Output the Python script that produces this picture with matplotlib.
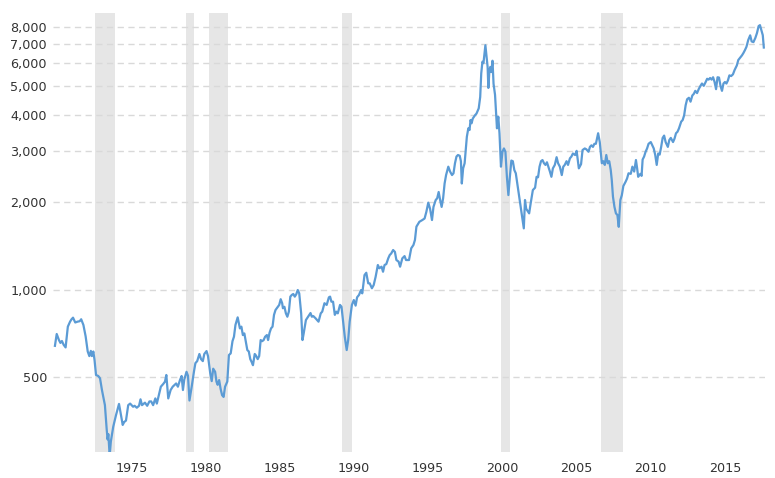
import matplotlib
matplotlib.use('Agg')
import matplotlib.pyplot as plt
import matplotlib.ticker as mticker
from matplotlib.transforms import ScaledTranslation

# Serie mensual aproximada (año decimal, valor ajustado por inflación)
years = [
    1971.13, 1971.25, 1971.4, 1971.5, 1971.6, 1971.72, 1971.85, 1972.0, 1972.15, 1972.25,
    1972.35, 1972.5, 1972.65, 1972.8, 1972.9, 1973.05, 1973.2, 1973.34, 1973.45, 1973.55,
    1973.62, 1973.72, 1973.8, 1973.9, 1974.05, 1974.17, 1974.3, 1974.5, 1974.62, 1974.68,
    1974.73, 1974.82, 1974.9, 1975.06, 1975.25, 1975.45, 1975.6, 1975.7, 1975.8, 1975.92,
    1976.07, 1976.2, 1976.4, 1976.5, 1976.65, 1976.8, 1976.9, 1977.0, 1977.2, 1977.35,
    1977.5, 1977.62, 1977.75, 1977.9, 1978.0, 1978.15, 1978.27, 1978.43, 1978.55, 1978.64,
    1978.77, 1978.93, 1979.07, 1979.2, 1979.3, 1979.42, 1979.56, 1979.67, 1979.76, 1979.85,
    1980.0, 1980.1, 1980.2, 1980.35, 1980.5, 1980.6, 1980.72, 1980.87, 1980.98, 1981.1,
    1981.2, 1981.35, 1981.45, 1981.6, 1981.7, 1981.8, 1981.93, 1982.02, 1982.1, 1982.2,
    1982.3, 1982.4, 1982.5, 1982.6, 1982.75, 1982.86, 1982.98, 1983.1, 1983.2, 1983.3,
    1983.45, 1983.6, 1983.7, 1983.8, 1983.9, 1983.98, 1984.1, 1984.2, 1984.3, 1984.4,
    1984.48, 1984.6, 1984.68, 1984.8, 1984.9, 1985.0, 1985.1, 1985.2, 1985.3, 1985.42,
    1985.5, 1985.6, 1985.7, 1985.8, 1985.9, 1986.0, 1986.25, 1986.35, 1986.45, 1986.5,
    1986.6, 1986.7, 1986.8, 1986.9, 1987.0, 1987.1, 1987.2, 1987.3, 1987.4, 1987.5,
    1987.6, 1987.73, 1987.82, 1987.9, 1988.05, 1988.2, 1988.36, 1988.45, 1988.55, 1988.7,
    1988.8, 1988.9, 1989.05, 1989.15, 1989.3, 1989.45, 1989.6, 1989.68, 1989.77, 1989.88,
    1990.0, 1990.1, 1990.2, 1990.35, 1990.45, 1990.55, 1990.67, 1990.8, 1990.9, 1991.0,
    1991.15, 1991.28, 1991.4, 1991.5, 1991.63, 1991.76, 1991.85, 1992.0, 1992.12, 1992.25,
    1992.35, 1992.5, 1992.62, 1992.75, 1992.9, 1993.0, 1993.15, 1993.25, 1993.35, 1993.47,
    1993.6, 1993.7, 1993.8, 1993.93, 1994.05, 1994.15, 1994.3, 1994.4, 1994.55, 1994.7,
    1994.8, 1995.0, 1995.15, 1995.3, 1995.4, 1995.5, 1995.7, 1995.9, 1996.05, 1996.17,
    1996.3, 1996.42, 1996.55, 1996.65, 1996.8, 1996.9, 1997.0, 1997.1, 1997.2, 1997.3,
    1997.4, 1997.5, 1997.65, 1997.77, 1997.9, 1998.0, 1998.1, 1998.2, 1998.3, 1998.42,
    1998.5, 1998.56, 1998.65, 1998.75, 1998.83, 1998.9, 1999.0, 1999.08, 1999.15, 1999.22,
    1999.3, 1999.45, 1999.55, 1999.7, 1999.8, 1999.87, 1999.95, 2000.02, 2000.15, 2000.22,
    2000.3, 2000.35, 2000.42, 2000.48, 2000.55, 2000.63, 2000.7, 2000.8, 2000.93, 2001.02,
    2001.1, 2001.2, 2001.3, 2001.4, 2001.5, 2001.6, 2001.7, 2001.8, 2001.9, 2002.0,
    2002.1, 2002.2, 2002.3, 2002.45, 2002.55, 2002.74, 2002.82, 2002.9, 2003.1, 2003.2,
    2003.35, 2003.5, 2003.6, 2003.7, 2003.8, 2003.9, 2004.0, 2004.1, 2004.2, 2004.3,
    2004.5, 2004.6, 2004.7, 2004.83, 2004.95, 2005.05, 2005.17, 2005.3, 2005.4, 2005.5,
    2005.62, 2005.72, 2005.85, 2005.95, 2006.05, 2006.2, 2006.3, 2006.45, 2006.6, 2006.7,
    2006.85, 2006.95, 2007.1, 2007.2, 2007.3, 2007.4, 2007.5, 2007.6, 2007.75, 2007.86,
    2007.95, 2008.0, 2008.1, 2008.2, 2008.3, 2008.4, 2008.5, 2008.6, 2008.67, 2008.75,
    2008.85, 2008.95, 2009.05, 2009.14, 2009.25, 2009.35, 2009.45, 2009.6, 2009.7, 2009.8,
    2009.95, 2010.06, 2010.18, 2010.3, 2010.38, 2010.45, 2010.6, 2010.68, 2010.75, 2010.85,
    2010.95, 2011.05, 2011.15, 2011.3, 2011.4, 2011.5, 2011.6, 2011.7, 2011.8, 2011.9,
    2012.0, 2012.1, 2012.2, 2012.3, 2012.45, 2012.55, 2012.65, 2012.8, 2012.9, 2013.0,
    2013.1, 2013.2, 2013.35, 2013.45, 2013.55, 2013.65, 2013.75, 2013.87, 2013.98, 2014.1,
    2014.2, 2014.3, 2014.42, 2014.53, 2014.65, 2014.75, 2014.87, 2015.0, 2015.1, 2015.2,
    2015.3, 2015.4, 2015.5, 2015.6, 2015.7, 2015.8, 2015.9, 2016.0, 2016.1, 2016.2,
    2016.3, 2016.4, 2016.5, 2016.6, 2016.72, 2016.84, 2016.95, 2017.1, 2017.2, 2017.3,
    2017.45, 2017.55, 2017.65, 2017.75, 2017.87, 2018.0, 2018.1, 2018.22, 2018.35, 2018.46,
    2018.57, 2018.66, 2018.76, 2018.85, 2018.92,
]
values = [
    640, 703, 670, 655, 665, 645, 632, 745, 775, 790,
    800, 770, 775, 778, 790, 755, 690, 612, 590, 615,
    590, 612, 572, 508, 504, 495, 451, 400, 330, 305,
    318, 268, 300, 337, 370, 404, 365, 342, 350, 354,
    400, 405, 395, 398, 392, 398, 419, 400, 408, 398,
    412, 412, 400, 422, 405, 437, 463, 473, 482, 508,
    422, 451, 463, 470, 475, 463, 488, 504, 451, 490,
    521, 505, 415, 463, 521, 558, 567, 600, 576, 567,
    600, 614, 590, 515, 484, 534, 521, 482, 470, 488,
    455, 433, 427, 463, 482, 595, 603, 664, 688, 755,
    802, 735, 745, 697, 706, 670, 619, 612, 576, 562,
    549, 600, 593, 576, 590, 670, 664, 670, 688, 697,
    670, 710, 735, 745, 818, 850, 885, 926, 897, 862,
    872, 828, 806, 839, 945, 958, 965, 945, 963, 996,
    970, 828, 670, 706, 785, 806, 830, 806, 810, 796,
    785, 775, 828, 839, 897, 885, 940, 945, 908, 908,
    818, 839, 828, 885, 872, 785, 688, 619, 670, 775,
    885, 920, 880, 940, 958, 995, 970, 1121, 1142, 1050,
    1050, 1010, 1036, 1106, 1214, 1183, 1198, 1151, 1214, 1223,
    1280, 1314, 1330, 1367, 1347, 1263, 1247, 1198, 1280, 1303,
    1263, 1263, 1386, 1423, 1480, 1645, 1710, 1734, 1755, 1850,
    1990, 1896, 1734, 1924, 2032, 2060, 2165, 2032, 1924, 2060,
    2316, 2476, 2646, 2545, 2476, 2511, 2719, 2867, 2902, 2884,
    2763, 2316, 2611, 2719, 3028, 3354, 3586, 3537, 3829, 3732,
    3875, 3977, 4030, 4199, 4597, 5541, 6078, 6010, 6926, 6394,
    5832, 4938, 5665, 5832, 5599, 6125, 5103, 4676, 3586, 3931,
    3448, 2646, 2978, 3057, 2978, 2442, 2113, 2442, 2777, 2763,
    2577, 2511, 2316, 2060, 1896, 1623, 2032, 1896, 1828, 1975,
    2199, 2240, 2442, 2433, 2646, 2763, 2789, 2719, 2683, 2740,
    2545, 2442, 2611, 2683, 2853, 2719, 2646, 2476, 2646, 2683,
    2763, 2683, 2828, 2867, 2937, 2902, 3000, 2611, 2700, 3019,
    3057, 3038, 2978, 3095, 3134, 3095, 3172, 3172, 3448, 3216,
    2902, 2719, 2763, 2683, 2902, 2719, 2763, 2577, 2380, 2087,
    1925, 1828, 1804, 1643, 2032, 2113, 2270, 2347, 2409, 2511,
    2500, 2646, 2545, 2789, 2611, 2442, 2500, 2460, 2800, 2867,
    2978, 3057, 3172, 3216, 3134, 3057, 2902, 2683, 2937, 2912,
    3095, 3323, 3385, 3216, 3095, 3269, 3323, 3216, 3304, 3448,
    3489, 3583, 3780, 3829, 3977, 4304, 4515, 4567, 4428, 4650,
    4710, 4825, 4740, 4890, 5020, 5113, 5020, 5175, 5310, 5275,
    5343, 5275, 5374, 5175, 4890, 5374, 5360, 5020, 4825, 5113,
    5175, 5113, 5240, 5455, 5425, 5500, 5690, 5900, 6160, 6250,
    6394, 6518, 6667, 6840, 7217, 7490, 7137, 7098, 7340, 7630,
    8060, 8120, 7800, 7500, 6800,
]

# Recesiones (inicio, fin) en año decimal
recession_start = [1973.83, 1980.0, 1981.5, 1990.5, 2001.17, 2007.92]
recession_end = [1975.17, 1980.5, 1982.83, 1991.17, 2001.83, 2009.42]

y_ticks = [500, 1000, 2000, 3000, 4000, 5000, 6000, 7000, 8000]
x_ticks = [1975, 1980, 1985, 1990, 1995, 2000, 2005, 2010, 2015]

fig = plt.figure(figsize=(7.75, 4.78), dpi=100)
ax = fig.add_axes([53 / 775, 1 - 452 / 478, 712 / 775, 439 / 478])

for ini, fin in zip(recession_start, recession_end):
    ax.axvspan(ini, fin, color='#e6e6e6', lw=0, zorder=0)

ax.plot(years, values, color='#5b9bd5', lw=1.6, zorder=3, solid_joinstyle='round')

ax.set_yscale('log')
ax.set_ylim(276, 8940)
ax.set_xlim(1971.0, 2019.0)

ax.yaxis.set_major_locator(mticker.FixedLocator(y_ticks))
ax.yaxis.set_major_formatter(mticker.FuncFormatter(lambda v, p: f'{int(v):,}'))
ax.yaxis.set_minor_locator(mticker.NullLocator())
ax.set_xticks(x_ticks)
ax.set_xticklabels([str(y) for y in x_ticks])

ax.grid(axis='y', color='#d9d9d9', lw=1, dashes=(4.5, 3.2))
ax.set_axisbelow(True)
for gl in ax.get_ygridlines():
    gl.set_zorder(1)

for s in ax.spines.values():
    s.set_visible(False)

ax.tick_params(axis='both', length=0, labelsize=9.2, colors='#333333')
ax.tick_params(axis='y', pad=4.3)
ax.tick_params(axis='x', pad=7)

# Etiquetas de año alineadas a la izquierda de su marca
offset = ScaledTranslation(3 / 100, 0, fig.dpi_scale_trans)
for lbl in ax.get_xticklabels():
    lbl.set_horizontalalignment('left')
    lbl.set_transform(lbl.get_transform() + offset)

plt.savefig('out.png', dpi=100)
